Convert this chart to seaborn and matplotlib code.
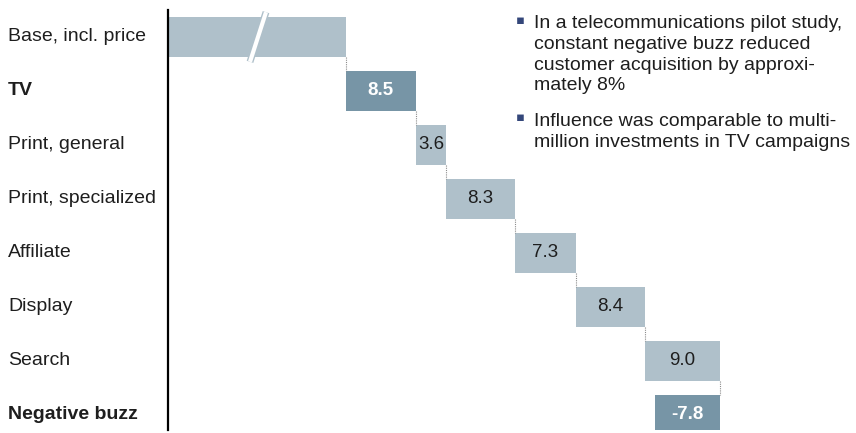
import numpy as np
import pandas as pd
import matplotlib.pyplot as plt
from matplotlib import transforms
import seaborn as sns

# =========================
# DATA
# =========================

categories = ["Base, incl. price", "TV", "Print, general", "Print, specialized",
              "Affiliate", "Display", "Search", "Negative buzz"]
changes = [21.4, 8.5, 3.6, 8.3, 7.3, 8.4, 9.0, -7.8]   # base is shown on a broken scale
value_labels = ["", "8.5", "3.6", "8.3", "7.3", "8.4", "9.0", "-7.8"]
highlight = ["TV", "Negative buzz"]

bullets = [
    ["In a telecommunications pilot study,", "constant negative buzz reduced",
     "customer acquisition by approxi-", "mately 8%"],
    ["Influence was comparable to multi-", "million investments in TV campaigns"],
]

# =========================
# WATERFALL POSITIONS
# =========================

ends = np.cumsum(changes)
starts = ends - np.array(changes)
df = pd.DataFrame({
    "category": categories,
    "start": starts,
    "end": ends,
    "hi": np.maximum(starts, ends),
    "lo": np.minimum(starts, ends),
})

LIGHT = "#afc0ca"
DARK = "#7795a6"
TEXT = "#1e1e1e"
palette = {c: (DARK if c in highlight else LIGHT) for c in categories}

sns.set_theme(style="white")
plt.rcParams["font.family"] = ["Liberation Sans", "DejaVu Sans"]

W, H = 856, 433
fig = plt.figure(figsize=(W / 100, H / 100), dpi=100)
ax = fig.add_axes([168 / W, 3 / H, 1 - 168 / W, (430 - 10) / H])

# bar up to the higher end, then white bar to hide the part below the lower end
sns.barplot(data=df, x="hi", y="category", hue="category", palette=palette,
            width=0.74, saturation=1, legend=False, ax=ax, linewidth=0)
sns.barplot(data=df, x="lo", y="category", color="white",
            width=0.76, saturation=1, ax=ax, linewidth=0)

px = 8.3  # pixels per unit
ax.set_xlim(0, (W - 168) / px)
ax.set_ylim(7.28, -0.5)

# connectors
for i in range(len(categories) - 1):
    ax.plot([ends[i], ends[i]], [i + 0.37, i + 1 - 0.37], color="#8c8c8c",
            lw=0.8, ls=(0, (1, 1)), zorder=1)

# break mark on the base bar
bx = [(266 - 168) / px, (250 - 168) / px]
by = [-0.46, 0.46]
ax.plot(bx, by, color=LIGHT, lw=5, solid_capstyle="butt", zorder=4, clip_on=False)
ax.plot(bx, by, color="white", lw=3, solid_capstyle="butt", zorder=5, clip_on=False)

# value labels
for i, c in enumerate(categories):
    if not value_labels[i]:
        continue
    bold = c in highlight
    ax.text((starts[i] + ends[i]) / 2, i, value_labels[i], ha="center", va="center",
            fontsize=13.5, color="white" if bold else TEXT,
            fontweight="bold" if bold else "normal")

# category labels
trans = transforms.blended_transform_factory(fig.transFigure, ax.transData)
for i, c in enumerate(categories):
    ax.text(8 / W, i, c, transform=trans, ha="left", va="center", fontsize=14,
            color=TEXT, fontweight="bold" if c in highlight else "normal", clip_on=False)

ax.set_xlabel("")
ax.set_ylabel("")
ax.set_xticks([])
ax.set_yticks([])
for s in ["top", "right", "bottom"]:
    ax.spines[s].set_visible(False)
ax.spines["left"].set_color("black")
ax.spines["left"].set_linewidth(1.6)

# bullet notes
first_baselines = [28, 126]
pitch = 20.8
for y0, lines in zip(first_baselines, bullets):
    fig.text(516 / W, 1 - (y0 - 8) / H, "\u25aa", fontsize=9.5, color="#34477a",
             ha="left", va="center", family=["DejaVu Sans"])
    for k, line in enumerate(lines):
        fig.text(534 / W, 1 - (y0 + pitch * k) / H, line, fontsize=14, color=TEXT,
                 ha="left", va="baseline")

plt.savefig("out.png", dpi=100)
